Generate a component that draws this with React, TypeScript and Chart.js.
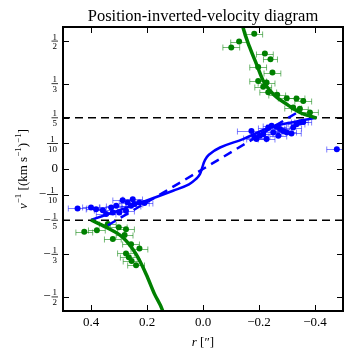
import React, { useEffect, useRef } from "react";
import { Chart, registerables } from "chart.js";

Chart.register(...registerables);

const SERIF = '"Liberation Serif", "DejaVu Serif", serif';

// ---------- data ----------
const titleText = "Position-inverted-velocity diagram";
const xLimits = [-0.5, 0.5];
const yLimits = [-0.555, 0.555];
const xTicks = [0.4, 0.2, 0.0, -0.2, -0.4];
const xTickLabels = ["0.4", "0.2", "0.0", "\u22120.2", "\u22120.4"];
const yTicks = [0.5, 1 / 3, 0.2, 0.1, 0, -0.1, -0.2, -1 / 3, -0.5];
const yTickLabels = ["1/2", "1/3", "1/5", "1/10", "0", "\u22121/10", "\u22121/5", "\u22121/3", "\u22121/2"];
const refLevels = [0.2, -0.2];

// blue (inner) data points
const blueR = [
  0.448, 0.4, 0.382, 0.358, 0.346, 0.328, 0.322, 0.31, 0.299, 0.287, 0.275, 0.269, 0.257, 0.251, 0.245, 0.227, 0.209,
  -0.173, -0.185, -0.191, -0.203, -0.215, -0.227, -0.233, -0.245, -0.251, -0.263, -0.269, -0.275, -0.287, -0.299,
  -0.316, -0.322, -0.334, -0.346, -0.358, -0.478,
];
const blueV = [
  -0.154, -0.15, -0.157, -0.161, -0.176, -0.15, -0.17, -0.144, -0.17, -0.122, -0.163, -0.131, -0.144, -0.118, -0.137,
  -0.131, -0.133,
  0.149, 0.123, 0.117, 0.13, 0.136, 0.117, 0.162, 0.169, 0.143, 0.165, 0.13, 0.156, 0.149, 0.143, 0.139, 0.162, 0.175,
  0.182, 0.184, 0.077,
];
const blueErr = [
  0.033, 0.03, 0.035, 0.03, 0.035, 0.04, 0.03, 0.035, 0.03, 0.035, 0.03, 0.03, 0.035, 0.035, 0.03, 0.035, 0.03,
  0.05, 0.04, 0.035, 0.03, 0.035, 0.03, 0.035, 0.03, 0.035, 0.035, 0.03, 0.035, 0.03, 0.035, 0.035, 0.03, 0.03, 0.03,
  0.03, 0.036,
];

// green (outer) data points
const greenR = [
  -0.183, -0.129, -0.101, -0.221, -0.241, -0.197, -0.248, -0.197, -0.227, -0.215, -0.233, -0.265, -0.299, -0.334,
  -0.358, -0.322, -0.346, -0.382,
  0.424, 0.379, 0.322, 0.301, 0.275, 0.28, 0.257, 0.227, 0.275, 0.265, 0.239, 0.255, 0.34,
];
const greenV = [
  0.529, 0.498, 0.475, 0.451, 0.429, 0.399, 0.377, 0.344, 0.338, 0.321, 0.3, 0.29, 0.277, 0.276, 0.266, 0.24, 0.235,
  0.221,
  -0.245, -0.239, -0.274, -0.228, -0.235, -0.258, -0.294, -0.311, -0.33, -0.345, -0.376, -0.36, -0.215,
];
const greenErr = [
  0.03, 0.03, 0.03, 0.03, 0.025, 0.03, 0.03, 0.03, 0.03, 0.03, 0.03, 0.03, 0.03, 0.03, 0.03, 0.03, 0.03, 0.03,
  0.03, 0.03, 0.03, 0.03, 0.03, 0.03, 0.03, 0.03, 0.03, 0.03, 0.03, 0.03, 0.03,
];

// blue solid model curve
const blueModelR = [0.4, 0.322, 0.203, 0.107, 0.05, 0.024, 0.011, 0.002, -0.007, -0.021, -0.061, -0.143, -0.239, -0.334, -0.4];
const blueModelV = [-0.199, -0.17, -0.124, -0.085, -0.06, -0.038, -0.02, 0.008, 0.035, 0.056, 0.084, 0.117, 0.162, 0.186, 0.199];
// blue dashed model curve
const blueDashR = [0.34, 0.0, -0.346];
const blueDashV = [-0.22, 0.0, 0.227];
// green model curves (upper and lower branch)
const greenUpR = [-0.138, -0.143, -0.167, -0.191, -0.215, -0.251, -0.299, -0.346, -0.406];
const greenUpV = [0.58, 0.553, 0.475, 0.41, 0.345, 0.292, 0.253, 0.221, 0.199];
const greenLoR = [0.4, 0.346, 0.287, 0.239, 0.203, 0.173, 0.143, 0.138];
const greenLoV = [-0.199, -0.228, -0.267, -0.333, -0.411, -0.489, -0.557, -0.58];

const BLUE = "#0000ff";
const GREEN = "#008000";

const pts = (xs: number[], ys: number[]) => xs.map((x, i) => ({ x, y: ys[i] }));

// ---------- plugin: error bars + matplotlib-like frame/text ----------
const decor = {
  id: "decor",
  beforeDatasetsDraw(chart: any) {
    const { ctx, chartArea: a, scales } = chart;
    const xs = scales.x;
    const ys = scales.y;
    ctx.save();
    ctx.beginPath();
    ctx.rect(a.left, a.top, a.right - a.left, a.bottom - a.top);
    ctx.clip();
    chart.data.datasets.forEach((ds: any) => {
      if (!ds.xerr) return;
      ctx.strokeStyle = ds.errColor;
      ctx.lineWidth = 1;
      ds.data.forEach((p: any, i: number) => {
        const e = ds.xerr[i];
        const x1 = xs.getPixelForValue(p.x - e);
        const x2 = xs.getPixelForValue(p.x + e);
        const y = Math.round(ys.getPixelForValue(p.y)) + 0.5;
        ctx.beginPath();
        ctx.moveTo(x1, y);
        ctx.lineTo(x2, y);
        ctx.moveTo(x1, y - 3);
        ctx.lineTo(x1, y + 3);
        ctx.moveTo(x2, y - 3);
        ctx.lineTo(x2, y + 3);
        ctx.stroke();
      });
    });
    ctx.restore();
  },
  afterDraw(chart: any) {
    const { ctx, chartArea: a, scales } = chart;
    const xs = scales.x;
    const ys = scales.y;
    ctx.save();
    ctx.fillStyle = "#000";
    ctx.strokeStyle = "#000";

    // ticks (inward, all four sides)
    ctx.lineWidth = 1;
    const tl = 6;
    xTicks.forEach((t) => {
      const x = Math.round(xs.getPixelForValue(t)) + 0.5;
      ctx.beginPath();
      ctx.moveTo(x, a.bottom);
      ctx.lineTo(x, a.bottom - tl);
      ctx.moveTo(x, a.top);
      ctx.lineTo(x, a.top + tl);
      ctx.stroke();
    });
    yTicks.forEach((t) => {
      const y = Math.round(ys.getPixelForValue(t)) + 0.5;
      ctx.beginPath();
      ctx.moveTo(a.left, y);
      ctx.lineTo(a.left + tl, y);
      ctx.moveTo(a.right, y);
      ctx.lineTo(a.right - tl, y);
      ctx.stroke();
    });

    // frame
    ctx.lineWidth = 2;
    ctx.strokeRect(a.left, a.top, a.right - a.left, a.bottom - a.top);

    // x tick labels
    ctx.font = `13px ${SERIF}`;
    ctx.textAlign = "center";
    ctx.textBaseline = "middle";
    xTicks.forEach((t, i) => {
      const x = xs.getPixelForValue(t);
      const lab = xTickLabels[i];
      if (lab.startsWith("\u2212")) {
        const body = lab.slice(1);
        const wb = ctx.measureText(body).width;
        const wm = ctx.measureText("\u2212").width;
        const total = wb + wm;
        ctx.textAlign = "left";
        ctx.fillText("\u2212", x - total / 2, a.bottom + 12);
        ctx.fillText(body, x - total / 2 + wm, a.bottom + 12);
        ctx.textAlign = "center";
      } else {
        ctx.fillText(lab, x, a.bottom + 12);
      }
    });

    // y tick labels (fractions)
    const xr = a.left - 5;
    yTicks.forEach((t, i) => {
      const y = ys.getPixelForValue(t);
      const lab = yTickLabels[i];
      if (lab === "0") {
        ctx.font = `13px ${SERIF}`;
        ctx.textAlign = "right";
        ctx.textBaseline = "middle";
        ctx.fillText("0", xr, y);
        return;
      }
      const neg = lab.startsWith("\u2212");
      const [n, d] = (neg ? lab.slice(1) : lab).split("/");
      ctx.font = `9px ${SERIF}`;
      const w = Math.max(ctx.measureText(n).width, ctx.measureText(d).width) + 2;
      const cx = xr - w / 2;
      ctx.textAlign = "center";
      ctx.textBaseline = "alphabetic";
      ctx.fillText(n, cx, y - 1.5);
      ctx.textBaseline = "top";
      ctx.fillText(d, cx, y + 1.5);
      ctx.fillRect(xr - w, y - 0.4, w, 0.8);
      if (neg) {
        ctx.font = `13px ${SERIF}`;
        ctx.textAlign = "right";
        ctx.textBaseline = "middle";
        ctx.fillText("\u2212", xr - w - 1, y);
      }
    });

    // title
    ctx.font = `16.5px ${SERIF}`;
    ctx.textAlign = "center";
    ctx.textBaseline = "alphabetic";
    ctx.fillText(titleText, (a.left + a.right) / 2, 21);

    // rich text helper
    const drawRich = (parts: any[], cx: number, cy: number) => {
      let total = 0;
      parts.forEach((p) => {
        ctx.font = p.font;
        p.w = ctx.measureText(p.t).width;
        total += p.w;
      });
      let x = cx - total / 2;
      ctx.textAlign = "left";
      ctx.textBaseline = "alphabetic";
      parts.forEach((p) => {
        ctx.font = p.font;
        ctx.fillText(p.t, x, cy + p.dy);
        x += p.w;
      });
    };
    const main = `13px ${SERIF}`;
    const ital = `italic 13px ${SERIF}`;
    const sup = `9px ${SERIF}`;

    // x label
    drawRich(
      [
        { t: "r", font: ital, dy: 4.5 },
        { t: " [\u2033]", font: main, dy: 4.5 },
      ],
      (a.left + a.right) / 2,
      341.5
    );

    // y label
    ctx.save();
    ctx.translate(22, (a.top + a.bottom) / 2);
    ctx.rotate(-Math.PI / 2);
    drawRich(
      [
        { t: "v", font: ital, dy: 4.5 },
        { t: "\u22121", font: sup, dy: -1 },
        { t: " [(km s", font: main, dy: 4.5 },
        { t: "\u22121", font: sup, dy: -1 },
        { t: ")", font: main, dy: 4.5 },
        { t: "\u22121", font: sup, dy: -1 },
        { t: "]", font: main, dy: 4.5 },
      ],
      0,
      0
    );
    ctx.restore();

    ctx.restore();
  },
};

export default function App() {
  const ref = useRef<HTMLCanvasElement>(null);
  useEffect(() => {
    const lineBase = { showLine: true, pointRadius: 0, fill: false, cubicInterpolationMode: "monotone" as const };
    const chart = new Chart(ref.current as HTMLCanvasElement, {
      type: "scatter",
      data: {
        datasets: [
          // reference dashed lines
          ...refLevels.map((lv) => ({
            label: "ref",
            data: pts(xLimits, xLimits.map(() => lv)),
            showLine: true,
            pointRadius: 0,
            borderColor: "#000",
            borderWidth: 1.5,
            borderDash: [8, 5],
            order: 6,
          })),
          {
            label: "green pts",
            data: pts(greenR, greenV),
            xerr: greenErr,
            errColor: "rgba(0,128,0,0.55)",
            pointRadius: 3,
            pointBackgroundColor: GREEN,
            pointBorderWidth: 0,
            backgroundColor: GREEN,
            borderColor: GREEN,
            order: 5,
          } as any,
          {
            label: "blue pts",
            data: pts(blueR, blueV),
            xerr: blueErr,
            errColor: "rgba(0,0,255,0.5)",
            pointRadius: 3,
            pointBackgroundColor: BLUE,
            pointBorderWidth: 0,
            backgroundColor: BLUE,
            borderColor: BLUE,
            order: 4,
          } as any,
          {
            label: "blue dash",
            data: pts(blueDashR, blueDashV),
            ...lineBase,
            borderColor: BLUE,
            borderWidth: 2.5,
            borderDash: [9, 6],
            order: 3,
          },
          {
            label: "blue model",
            data: pts(blueModelR, blueModelV),
            showLine: true,
            pointRadius: 0,
            fill: false,
            tension: 0.4,
            borderColor: BLUE,
            borderWidth: 2.5,
            order: 2,
          },
          {
            label: "green up",
            data: pts(greenUpR, greenUpV),
            ...lineBase,
            borderColor: GREEN,
            borderWidth: 3.5,
            order: 1,
          },
          {
            label: "green lo",
            data: pts(greenLoR, greenLoV),
            ...lineBase,
            borderColor: GREEN,
            borderWidth: 3.5,
            order: 1,
          },
        ],
      },
      options: {
        responsive: false,
        maintainAspectRatio: false,
        devicePixelRatio: 1,
        animation: false,
        events: [],
        layout: { padding: { left: 63, right: 10, top: 27, bottom: 38 } },
        plugins: { legend: { display: false }, tooltip: { enabled: false }, title: { display: false } },
        scales: {
          x: { type: "linear", reverse: true, min: xLimits[0], max: xLimits[1], display: false },
          y: { type: "linear", min: yLimits[0], max: yLimits[1], display: false },
        },
      },
      plugins: [decor],
    } as any);
    return () => chart.destroy();
  }, []);
  return (
    <div style={{ position: "fixed", left: 0, top: 0, width: 353, height: 349, background: "#fff" }}>
      <canvas ref={ref} width={353} height={349} style={{ display: "block", width: 353, height: 349 }} />
    </div>
  );
}
